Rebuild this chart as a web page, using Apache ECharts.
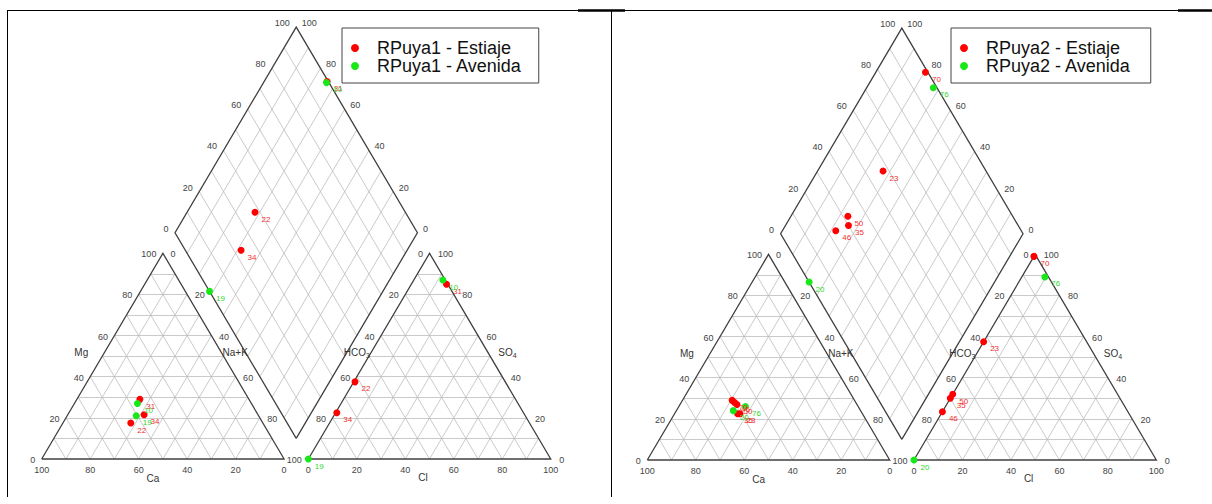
<!DOCTYPE html>
<html><head><meta charset="utf-8">
<script src="https://cdn.jsdelivr.net/npm/echarts@6/dist/echarts.min.js"></script>
<style>html,body{margin:0;padding:0;background:#fff}#c{width:1212px;height:504px}</style>
</head><body><div id="c"></div>
<script>
// ---------- DATA (percent of meq) ----------
const tickValues = [0, 20, 40, 60, 80, 100];
const seriesNames1 = ['RPuya1 - Estiaje', 'RPuya1 - Avenida'];
const seriesNames2 = ['RPuya2 - Estiaje', 'RPuya2 - Avenida'];

const r1EstIds  = ['31', '22', '34'];
const r1EstCa   = [45, 54.5, 47];
const r1EstMg   = [29, 17.5, 21.5];
const r1EstNaK  = [26, 28, 31.5];
const r1EstHCO3 = [0.5, 62, 77];
const r1EstSO4  = [85, 37.5, 22.5];
const r1EstCl   = [14.5, 0.5, 0.5];

const r1AveIds  = ['10', '19'];
const r1AveCa   = [47, 50.5];
const r1AveMg   = [27, 21];
const r1AveNaK  = [26, 28.5];
const r1AveHCO3 = [1, 100];
const r1AveSO4  = [87, 0];
const r1AveCl   = [12, 0];

const r2EstIds  = ['70', '23', '50', '35', '46'];
const r2EstCa   = [50.5, 50.5, 49.5, 51.5, 50];
const r2EstMg   = [29, 22.5, 27, 22.5, 28];
const r2EstNaK  = [20.5, 27, 23.5, 26, 22];
const r2EstHCO3 = [1, 42.5, 68, 70, 76.5];
const r2EstSO4  = [99, 57.5, 32, 30, 23.5];
const r2EstCl   = [0, 0, 0, 0, 0];

const r2AveIds  = ['76', '20'];
const r2AveCa   = [46.5, 52.5];
const r2AveMg   = [26, 24];
const r2AveNaK  = [27.5, 23.5];
const r2AveHCO3 = [1.5, 100];
const r2AveSO4  = [89, 0];
const r2AveCl   = [9.5, 0];

// ---------- PIPER GEOMETRY ----------
const S = Math.sqrt(3) / 2;
const GAP = 0.1;
function cationXY(ca, mg, na) { const t = ca + mg + na; return [(na + 0.5 * mg) / t, S * mg / t]; }
function anionXY(h, so4, cl) { const t = h + so4 + cl; return [1 + GAP + (cl + 0.5 * so4) / t, S * so4 / t]; }
function P(u, w) { return [1 + GAP / 2 + 0.5 * (w - u), GAP * S + S * (u + w)]; }
function diamondXY(ca, mg, na, h, so4, cl) { return P((ca + mg) / (ca + mg + na), (so4 + cl) / (h + so4 + cl)); }

function gridSegs() {
  const segs = [];
  for (const off of [0, 1 + GAP]) {
    for (let k = 1; k < 10; k++) {
      const f = k / 10;
      segs.push([[off + 0.5 * f, S * f], [off + 1 - 0.5 * f, S * f]]);
      segs.push([[off + f, 0], [off + f + 0.5 * (1 - f), S * (1 - f)]]);
      segs.push([[off + f, 0], [off + 0.5 * f, S * f]]);
    }
  }
  for (let k = 1; k < 10; k++) {
    const f = k / 10;
    segs.push([P(f, 0), P(f, 1)]);
    segs.push([P(0, f), P(1, f)]);
  }
  return segs;
}
function outlines() {
  const o = 1 + GAP;
  return [
    [[0, 0], [1, 0], [0.5, S], [0, 0]],
    [[o, 0], [o + 1, 0], [o + 0.5, S], [o, 0]],
    [P(0, 0), P(1, 0), P(1, 1), P(0, 1), P(0, 0)]
  ];
}

const TICK_FONT = { fontSize: 9, color: '#444', fontFamily: 'Liberation Sans' };
function tickItems() {
  const items = [];
  const add = (xy, text, pos, dist, off) => items.push({ value: xy, name: String(text), label: { position: pos, distance: dist, offset: off || [0, 0] } });
  tickValues.forEach(v => {
    const f = v / 100;
    add([0.5 * f, S * f], v, 'left', 6, [0, 1]);                   // Mg
    add([1 - f, 0], v, 'bottom', 6);                                // Ca
    if (v !== 100) add([f + 0.5 * (1 - f), S * (1 - f)], v, 'right', 7, [0, 1]); // Na+K
    add([1 + GAP + 0.5 * (1 - f), S * (1 - f)], v, 'left', 6, [0, 1]);  // HCO3
    add([2 + GAP - 0.5 * f, S * f], v, 'right', 8, [0, 1]);         // SO4
    add([1 + GAP + f, 0], v, 'bottom', 6);                          // Cl
    add(P(1, f), v, 'left', 6, [0, -4]);                            // SO4+Cl
    add(P(f, 1), v, 'right', 5, [0, -4]);                           // Ca+Mg
  });
  return items;
}
function titleItems() {
  const h = 0.52;
  return [
    { value: [0.5 * h, S * h], name: 'Mg', label: { position: 'left', distance: 16, formatter: 'Mg' } },
    { value: [1 - 0.5 * h, S * h], name: 'Na+K', label: { position: 'right', distance: 1, formatter: 'Na+K' } },
    { value: [0.459, 0], name: 'Ca', label: { position: 'bottom', distance: 14, formatter: 'Ca' } },
    { value: [1 + GAP + 0.5 * h, S * h], name: 'HCO3', label: { position: 'left', distance: 1, formatter: '{a|HCO}{s|3}' } },
    { value: [2 + GAP - 0.5 * h, S * h], name: 'SO4', label: { position: 'right', distance: 10, formatter: '{a|SO}{s|4}' } },
    { value: [1.573, 0], name: 'Cl', label: { position: 'bottom', distance: 13, formatter: 'Cl' } }
  ];
}

function sampleItems(ids, ca, mg, na, h, so4, cl) {
  const items = [];
  ids.forEach((id, i) => {
    items.push({ name: id, value: cationXY(ca[i], mg[i], na[i]) });
    items.push({ name: id, value: anionXY(h[i], so4[i], cl[i]) });
    items.push({ name: id, value: diamondXY(ca[i], mg[i], na[i], h[i], so4[i], cl[i]) });
  });
  return items;
}

const RED = '#ff0000', GREEN = '#18e818';
const CLEAR = 'rgba(0,0,0,0)';
const XU = 242.4, YU = 237.5, XMIN = -0.15, XMAX = 2.25, YMIN = -0.15, YMAX = 1.9;
function panel(idx, originX, originY, names, groups) {
  const grid = { left: originX + XMIN * XU, width: (XMAX - XMIN) * XU, top: originY - YMAX * YU, height: (YMAX - YMIN) * YU };
  const ax = { xAxisIndex: idx, yAxisIndex: idx };
  const series = [
    { type: 'lines', coordinateSystem: 'cartesian2d', ...ax, silent: true, polyline: false,
      lineStyle: { color: '#bdbdbd', width: 0.8, opacity: 1 }, data: gridSegs().map(c => ({ coords: c })) },
    { type: 'lines', coordinateSystem: 'cartesian2d', ...ax, silent: true, polyline: true,
      lineStyle: { color: '#404040', width: 1.3, opacity: 1 }, data: outlines().map(c => ({ coords: c })) },
    { type: 'scatter', ...ax, silent: true, symbolSize: 1, itemStyle: { color: CLEAR, borderWidth: 0 },
      label: { show: true, formatter: '{b}', opacity: 1, ...TICK_FONT }, data: tickItems() },
    { type: 'scatter', ...ax, silent: true, symbolSize: 1, itemStyle: { color: CLEAR, borderWidth: 0 },
      label: { show: true, opacity: 1, fontSize: 10, color: '#333', fontFamily: 'Liberation Sans',
        rich: { a: { fontSize: 10, color: '#333', fontFamily: 'Liberation Sans' }, s: { fontSize: 7, color: '#333', padding: [6, 0, 0, 0], fontFamily: 'Liberation Sans' } } },
      data: titleItems() }
  ];
  groups.forEach((g, gi) => {
    const col = gi === 0 ? RED : GREEN;
    series.push({ type: 'scatter', name: names[gi], ...ax, symbol: 'circle', symbolSize: 7,
      itemStyle: { color: col, opacity: 1 }, z: 5,
      label: { show: true, formatter: '{b}', position: 'right', distance: 3, offset: [0, 7],
        fontSize: 8, color: gi === 0 ? '#f03030' : '#30d830', fontFamily: 'Liberation Sans' },
      data: sampleItems(...g) });
  });
  return {
    grid,
    xAxis: { gridIndex: idx, type: 'value', min: XMIN, max: XMAX, show: false },
    yAxis: { gridIndex: idx, type: 'value', min: YMIN, max: YMAX, show: false },
    series
  };
}

const p1 = panel(0, 41.7, 459, seriesNames1, [
  [r1EstIds, r1EstCa, r1EstMg, r1EstNaK, r1EstHCO3, r1EstSO4, r1EstCl],
  [r1AveIds, r1AveCa, r1AveMg, r1AveNaK, r1AveHCO3, r1AveSO4, r1AveCl]
]);
const p2 = panel(1, 647.3, 460, seriesNames2, [
  [r2EstIds, r2EstCa, r2EstMg, r2EstNaK, r2EstHCO3, r2EstSO4, r2EstCl],
  [r2AveIds, r2AveCa, r2AveMg, r2AveNaK, r2AveHCO3, r2AveSO4, r2AveCl]
]);

function legend(left, names, padRight) {
  return {
    orient: 'vertical', left: left, top: 28, data: names, icon: 'circle', itemWidth: 8, itemHeight: 8,
    itemGap: 0, selectedMode: false, borderColor: '#444', borderWidth: 1, borderRadius: 0,
    backgroundColor: '#fff', padding: [11, padRight, 8, 9],
    textStyle: { fontSize: 18, lineHeight: 18, color: '#111', fontFamily: 'Liberation Sans', padding: [0, 0, 0, 13] }
  };
}

const chart = echarts.init(document.getElementById('c'), null, { renderer: 'svg', width: 1212, height: 504 });
chart.setOption({
  animation: false,
  backgroundColor: '#fff',
  grid: [p1.grid, p2.grid],
  xAxis: [p1.xAxis, p2.xAxis],
  yAxis: [p1.yAxis, p2.yAxis],
  legend: [legend(342, seriesNames1, 17), legend(951, seriesNames2, 20)],
  series: [...p1.series, ...p2.series],
  graphic: [
    { type: 'line', shape: { x1: 7, y1: 10.5, x2: 1212, y2: 10.5 }, style: { stroke: '#000', lineWidth: 1 } },
    { type: 'line', shape: { x1: 578, y1: 10.5, x2: 625, y2: 10.5 }, style: { stroke: '#000', lineWidth: 2.5 } },
    { type: 'line', shape: { x1: 1178, y1: 10.5, x2: 1212, y2: 10.5 }, style: { stroke: '#000', lineWidth: 2.5 } },
    { type: 'line', shape: { x1: 7.5, y1: 10, x2: 7.5, y2: 497 }, style: { stroke: '#000', lineWidth: 1 } },
    { type: 'line', shape: { x1: 611.5, y1: 10, x2: 611.5, y2: 497 }, style: { stroke: '#000', lineWidth: 1 } }
  ]
});
</script>
</body></html>
